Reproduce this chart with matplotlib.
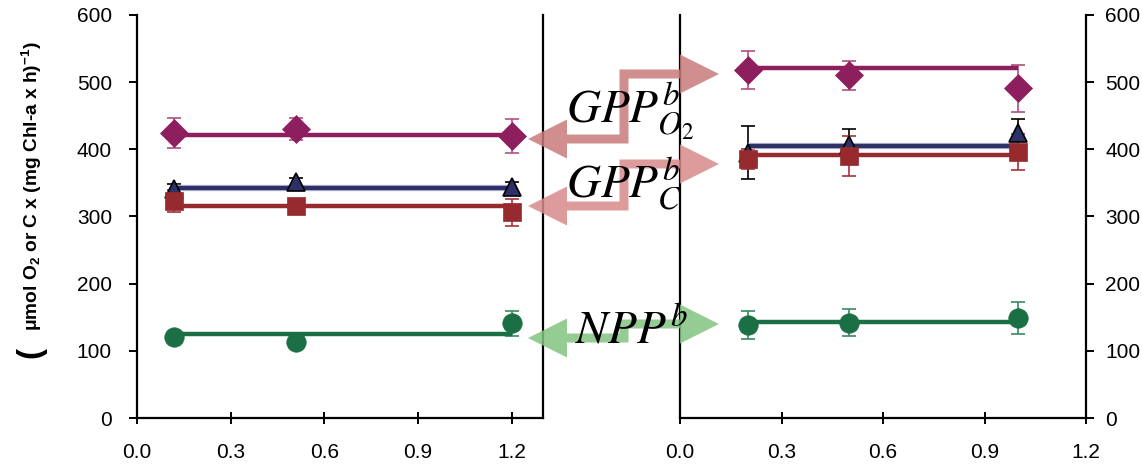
import numpy as np
import matplotlib
matplotlib.use('Agg')
import matplotlib.pyplot as plt
from matplotlib.patches import Polygon
import matplotlib.patheffects as pe

plt.rcParams['font.family'] = ['Liberation Sans', 'DejaVu Sans']
plt.rcParams['mathtext.fontset'] = 'custom'
plt.rcParams['mathtext.rm'] = 'Liberation Sans:bold'
plt.rcParams['mathtext.bf'] = 'Liberation Sans:bold'
plt.rcParams['mathtext.it'] = 'Liberation Sans:bold'

# irradiance / dose on the x axis
left_x = [0.12, 0.51, 1.20]
right_x = [0.20, 0.50, 1.00]

# left panel
gpp_o2_l = [424, 430, 420]
gpp_o2_l_err = [22, 16, 25]
gpp_o2_l_mean = 422
gpp_ct_l = [341, 351, 344]
gpp_ct_l_err = [8, 6, 8]
gpp_ct_l_mean = 343
gpp_cs_l = [323, 316, 306]
gpp_cs_l_err = [17, 8, 20]
gpp_cs_l_mean = 316
npp_l = [120, 113, 141]
npp_l_err = [4, 4, 19]
npp_l_mean = 125

# right panel
gpp_o2_r = [518, 510, 491]
gpp_o2_r_err = [28, 21, 35]
gpp_o2_r_mean = 521
gpp_ct_r = [395, 406, 425]
gpp_ct_r_err = [39, 25, 20]
gpp_ct_r_mean = 405
gpp_cs_r = [386, 390, 396]
gpp_cs_r_err = [15, 30, 27]
gpp_cs_r_mean = 391
npp_r = [138, 142, 149]
npp_r_err = [21, 20, 24]
npp_r_mean = 143

xticks = [0.0, 0.3, 0.6, 0.9, 1.2]
yticks = [0, 100, 200, 300, 400, 500, 600]

W, H = 1142, 468
fig = plt.figure(figsize=(W / 100, H / 100), dpi=100)
ax1 = fig.add_axes([137 / W, 1 - 418 / H, 406 / W, 403 / H])
ax2 = fig.add_axes([680 / W, 1 - 418 / H, 406 / W, 403 / H])

styles = [
    # marker, face, edge, errcolor, linecolor, ms
    ('D', '#8E1F5F', '#8E1F5F', '#B0507F', '#8E1F5F', 14),
    ('^', '#2D3168', 'black', 'black', '#2D3168', 13),
    ('s', '#962A2E', '#962A2E', '#A83038', '#962A2E', 12.5),
    ('o', '#1B6F45', '#1B6F45', '#3A8A60', '#1B6F45', 14),
]


def panel(ax, xs, series, xmax):
    for (vals, errs, mean), (m, fc, ec, erc, lc, ms) in zip(series, styles):
        ax.errorbar(xs, vals, yerr=errs, fmt='none', ecolor=erc, elinewidth=1.2,
                    capsize=5, capthick=1.2, zorder=2)
        ln, = ax.plot([xs[0], xs[-1]], [mean, mean], color=lc, lw=3.2,
                      solid_capstyle='butt', zorder=3)
        if m == '^':
            ln.set_path_effects([pe.Stroke(linewidth=4.6, foreground='#C8C8E0'), pe.Normal()])
        ax.plot(xs, vals, ls='none', marker=m, ms=ms, mfc=fc, mec=ec,
                mew=1.2 if m == '^' else 0.5, zorder=4)
    ax.set_xlim(0, xmax)
    ax.set_ylim(0, 600)
    ax.set_xticks(xticks)
    ax.set_xticklabels(['%.1f' % t for t in xticks])
    ax.set_yticks(yticks)
    ax.spines['top'].set_visible(False)
    for s in ['left', 'right', 'bottom']:
        ax.spines[s].set_linewidth(1.6)
    ax.tick_params(axis='x', direction='inout', length=8, width=1.4, labelsize=15, pad=14)
    ax.tick_params(axis='y', direction='out', length=6, width=1.4, labelsize=15, pad=12)


panel(ax1, left_x, [(gpp_o2_l, gpp_o2_l_err, gpp_o2_l_mean),
                    (gpp_ct_l, gpp_ct_l_err, gpp_ct_l_mean),
                    (gpp_cs_l, gpp_cs_l_err, gpp_cs_l_mean),
                    (npp_l, npp_l_err, npp_l_mean)], 1.3)
panel(ax2, right_x, [(gpp_o2_r, gpp_o2_r_err, gpp_o2_r_mean),
                     (gpp_ct_r, gpp_ct_r_err, gpp_ct_r_mean),
                     (gpp_cs_r, gpp_cs_r_err, gpp_cs_r_mean),
                     (npp_r, npp_r_err, npp_r_mean)], 1.2)
ax2.yaxis.tick_right()
ax2.tick_params(axis='y', left=False, pad=8)


def elbow_arrow(yl, yr, color, xv=624, w=4.5):
    # double-headed step arrow drawn in figure pixels
    pts = [(528, yl), (567, yl - 19.5), (567, yl - w), (xv - w, yl - w),
           (xv - w, yr - w), (680, yr - w), (680, yr - 19.5), (719, yr),
           (680, yr + 19.5), (680, yr + w), (xv + w, yr + w), (xv + w, yl + w),
           (567, yl + w), (567, yl + 19.5)]
    pts = [(x / W, 1 - y / H) for x, y in pts]
    fig.patches.append(Polygon(pts, closed=True, transform=fig.transFigure,
                               facecolor=color, edgecolor='none', alpha=0.85, zorder=5))


elbow_arrow(139, 74, '#C97A7B')
elbow_arrow(206, 164, '#D88A8A')
elbow_arrow(338, 324, '#82C482')

fig.text(566 / W, 1 - 123 / H, r'$GPP^{b}_{O_2}$', fontsize=34, math_fontfamily='stix', zorder=6)
fig.text(566 / W, 1 - 198 / H, r'$GPP^{b}_{C}$', fontsize=34, math_fontfamily='stix', zorder=6)
fig.text(575 / W, 1 - 343 / H, r'$NPP^{b}$', fontsize=34, math_fontfamily='stix', zorder=6)

fig.text(31 / W, 1 - 352 / H, '(', fontsize=24, fontweight='bold', rotation=90,
         ha='center', va='center')
fig.text(32 / W, 1 - 186 / H, r'μmol O$_{\mathbf{2}}$ or C x (mg Chl-a x h)$^{\mathbf{-1}}$)',
         fontsize=13.8, fontweight='bold', rotation=90, ha='center', va='center')

fig.savefig('out.png', dpi=100)
